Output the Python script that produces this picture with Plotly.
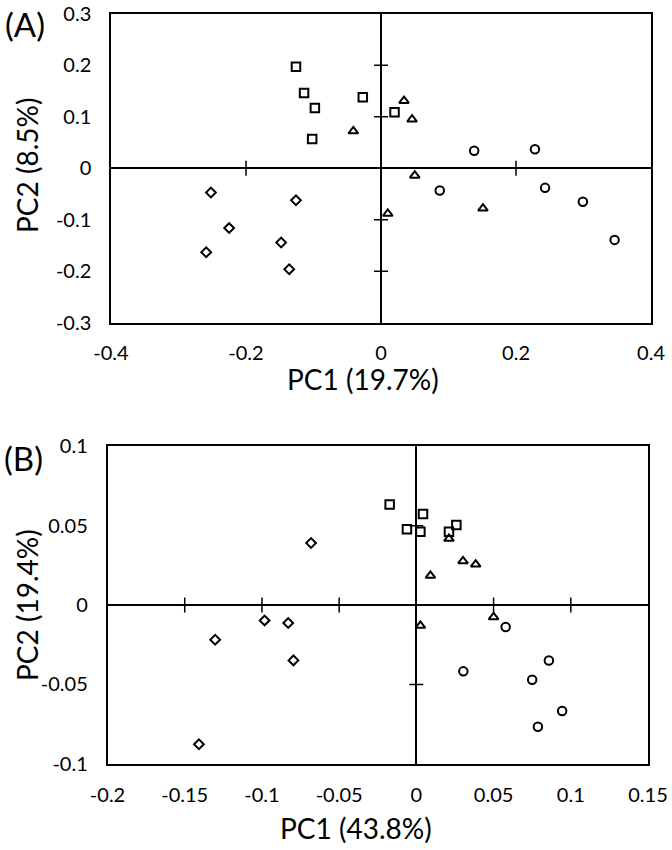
import plotly.graph_objects as go

# ---------------- Panel A data ----------------
a_sq_x = [-0.126, -0.114, -0.098, -0.102, -0.027, 0.020]
a_sq_y = [0.197, 0.146, 0.117, 0.057, 0.138, 0.109]
a_tri_x = [-0.041, 0.034, 0.046, 0.050, 0.010, 0.151]
a_tri_y = [0.072, 0.131, 0.095, -0.014, -0.088, -0.078]
a_cir_x = [0.138, 0.228, 0.087, 0.243, 0.299, 0.346]
a_cir_y = [0.034, 0.037, -0.043, -0.038, -0.065, -0.139]
a_dia_x = [-0.252, -0.225, -0.259, -0.126, -0.148, -0.136]
a_dia_y = [-0.047, -0.116, -0.163, -0.062, -0.144, -0.196]

# ---------------- Panel B data ----------------
b_sq_x = [-0.0173, 0.0043, -0.0061, 0.0026, 0.0211, 0.0259]
b_sq_y = [0.0634, 0.0573, 0.0477, 0.0462, 0.0462, 0.0504]
b_tri_x = [0.0211, 0.0302, 0.0384, 0.0091, 0.0500, 0.0026]
b_tri_y = [0.0418, 0.0277, 0.0256, 0.0185, -0.0076, -0.0130]
b_cir_x = [0.0578, 0.0304, 0.0858, 0.0750, 0.0944, 0.0787]
b_cir_y = [-0.0139, -0.0418, -0.0349, -0.0471, -0.0668, -0.0767]
b_dia_x = [-0.0682, -0.0983, -0.0830, -0.1303, -0.0796, -0.1408]
b_dia_y = [0.0391, -0.0097, -0.0113, -0.0219, -0.0349, -0.0877]

# ---------------- Axis ticks ----------------
a_xticks = [-0.4, -0.2, 0, 0.2, 0.4]
a_xtext = ["-0.4", "-0.2", "0", "0.2", "0.4"]
a_yticks = [-0.3, -0.2, -0.1, 0, 0.1, 0.2, 0.3]
a_ytext = ["-0.3", "-0.2", "-0.1", "0", "0.1", "0.2", "0.3"]
b_xticks = [-0.2, -0.15, -0.1, -0.05, 0, 0.05, 0.1, 0.15]
b_xtext = ["-0.2", "-0.15", "-0.1", "-0.05", "0", "0.05", "0.1", "0.15"]
b_yticks = [-0.1, -0.05, 0, 0.05, 0.1]
b_ytext = ["-0.1", "-0.05", "0", "0.05", "0.1"]

# cross tick marks drawn on the zero axes
a_cross_x = [-0.2, 0.2]
a_cross_y = [-0.2, -0.1, 0.1, 0.2]
b_cross_x = [-0.15, -0.1, -0.05, 0.05, 0.1]
b_cross_y = [-0.05, 0.05]

FONT = "Lato"
fig = go.Figure()

def add_set(xs, ys, sym, size, xa, ya):
    fig.add_trace(go.Scatter(
        x=xs, y=ys, mode="markers", xaxis=xa, yaxis=ya, showlegend=False,
        marker=dict(symbol=sym, size=size, color="black",
                    line=dict(color="black", width=2))))

for xa, ya, sets in [
    ("x", "y", [(a_sq_x, a_sq_y, "square-open", 8.5), (a_tri_x, a_tri_y, "triangle-up-open", 8.5),
                (a_cir_x, a_cir_y, "circle-open", 8.5), (a_dia_x, a_dia_y, "diamond-open", 7.5)]),
    ("x2", "y2", [(b_sq_x, b_sq_y, "square-open", 8.5), (b_tri_x, b_tri_y, "triangle-up-open", 8.5),
                  (b_cir_x, b_cir_y, "circle-open", 8.5), (b_dia_x, b_dia_y, "diamond-open", 7.5)]),
]:
    for xs, ys, sym, size in sets:
        add_set(xs, ys, sym, size, xa, ya)

tickfont = dict(family=FONT, size=20, color="black")
axcommon = dict(showgrid=False, showline=True, mirror=True, linecolor="black", linewidth=1.5,
                zeroline=True, zerolinecolor="black", zerolinewidth=2, automargin=False,
                ticks="", tickfont=tickfont, tickmode="array")

fig.update_layout(
    template="none",
    width=672, height=850, margin=dict(l=0, r=0, t=0, b=0),
    paper_bgcolor="white", plot_bgcolor="white",
    xaxis=dict(axcommon, domain=[0.1652, 0.9688], range=[-0.4, 0.4], anchor="y",
               tickvals=a_xticks, ticktext=a_xtext, ticklabelstandoff=11),
    yaxis=dict(axcommon, domain=[0.6202, 0.9838], range=[-0.3, 0.3], anchor="x",
               tickvals=a_yticks, ticktext=a_ytext, ticklabelstandoff=14),
    xaxis2=dict(axcommon, domain=[0.160, 0.9643], range=[-0.2, 0.15], anchor="y2",
                tickvals=b_xticks, ticktext=b_xtext, ticklabelstandoff=13),
    yaxis2=dict(axcommon, domain=[0.1015, 0.4749], range=[-0.1, 0.1], anchor="x2",
                tickvals=b_yticks, ticktext=b_ytext, ticklabelstandoff=14),
)

shapes = []
for xr, yr, cx, cy in [("x", "y", a_cross_x, a_cross_y), ("x2", "y2", b_cross_x, b_cross_y)]:
    for v in cx:
        shapes.append(dict(type="line", xref=xr, yref=yr, x0=v, x1=v,
                           ysizemode="pixel", yanchor=0, y0=-7.5, y1=7.5,
                           line=dict(color="black", width=1.5)))
    for v in cy:
        shapes.append(dict(type="line", xref=xr, yref=yr, y0=v, y1=v,
                           xsizemode="pixel", xanchor=0, x0=-7, x1=7,
                           line=dict(color="black", width=1.5)))
fig.update_layout(shapes=shapes)

titlefont = dict(family=FONT, size=28, color="black")
ann = [
    dict(text="PC1 (19.7%)", x=363 / 672, y=1 - 379 / 850),
    dict(text="PC2 (8.5%)", x=27 / 672, y=1 - 166 / 850, textangle=-90),
    dict(text="PC1 (43.8%)", x=356 / 672, y=1 - 828 / 850),
    dict(text="PC2 (19.4%)", x=27 / 672, y=1 - 605 / 850, textangle=-90),
]
annotations = [dict(a, xref="paper", yref="paper", showarrow=False, font=titlefont,
                    xanchor="center", yanchor="middle") for a in ann]
annotations.append(dict(text="(A)", x=25 / 672, y=1 - 24 / 850, xref="paper", yref="paper",
                        showarrow=False, font=dict(family=FONT, size=33, color="black"),
                        xanchor="center", yanchor="middle"))
annotations.append(dict(text="(B)", x=23 / 672, y=1 - 458 / 850, xref="paper", yref="paper",
                        showarrow=False, font=dict(family=FONT, size=33, color="black"),
                        xanchor="center", yanchor="middle"))
fig.update_layout(annotations=annotations)

fig.write_html("out.html", config={"displayModeBar": False},
               post_script="document.body.style.margin='0';")
